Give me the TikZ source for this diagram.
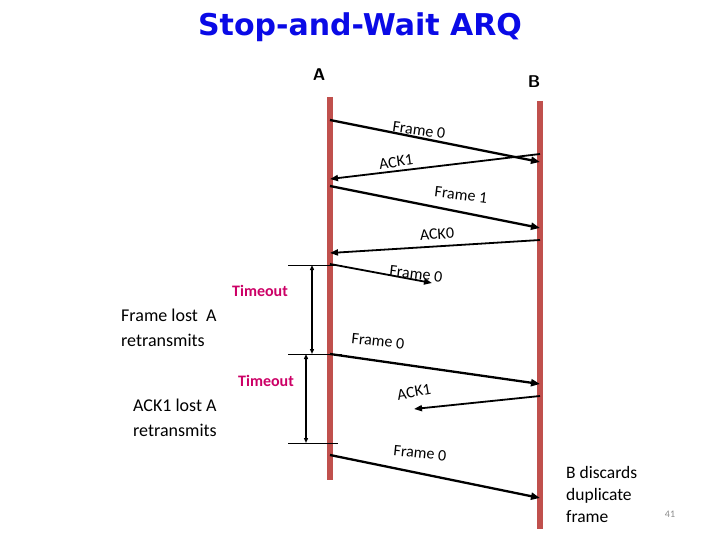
\documentclass[tikz,border=0pt]{standalone}
\usepackage{fontspec}
\setmainfont{Carlito}
\newfontfamily\titlefont{DejaVu Sans}
\usetikzlibrary{arrows.meta}
\definecolor{lifeline}{RGB}{192,80,77}
\definecolor{titleblue}{RGB}{10,10,230}
\definecolor{tmag}{RGB}{204,0,102}
\definecolor{pgnum}{RGB}{140,140,140}
\begin{document}
\begin{tikzpicture}[x=1pt,y=-1pt,
  life/.style={draw=lifeline,line width=6pt},
  msg/.style={-{Triangle[length=9pt,width=7pt]},line width=2.3pt},
  ack/.style={-{Triangle[length=8pt,width=6pt]},line width=1.8pt},
  lbl/.style={font=\fontsize{16}{18}\selectfont,inner sep=0pt},
  side/.style={font=\fontsize{18}{24.5}\selectfont,align=left,inner sep=0pt},
  tmo/.style={font=\fontsize{16}{18}\selectfont\bfseries,text=tmag,inner sep=0pt},
  tick/.style={line width=0.8pt},
  span/.style={{Triangle[length=5pt,width=4pt]}-{Triangle[length=5pt,width=4pt]},line width=1.3pt}]
\useasboundingbox (0,0) rectangle (720,540);
% title
\node[font=\titlefont\bfseries\fontsize{30}{34}\selectfont,text=titleblue] (title) at (360,27) {Stop-and-Wait ARQ};
\node[font=\sffamily\bfseries\fontsize{17}{19}\selectfont] (labA) at (319,75) {A};
\node[font=\sffamily\bfseries\fontsize{17}{19}\selectfont] (labB) at (534,82) {B};
% lifelines
\coordinate (Atop) at (330,97);
\coordinate (Abot) at (330,480);
\coordinate (Btop) at (540,101);
\coordinate (Bbot) at (540,529);
\draw[life] (Atop) -- (Abot);
\draw[life] (Btop) -- (Bbot);
% message end points
\coordinate (m1s) at (330,120); \coordinate (m1e) at (540,162);
\coordinate (m2s) at (540,154); \coordinate (m2e) at (330,179);
\coordinate (m3s) at (330,186); \coordinate (m3e) at (540,228);
\coordinate (m4s) at (540,240); \coordinate (m4e) at (330,253);
\coordinate (m5s) at (330,264); \coordinate (m5e) at (432,283);
\coordinate (m6s) at (330,354); \coordinate (m6e) at (540,384);
\coordinate (m7s) at (540,396); \coordinate (m7e) at (414,409);
\coordinate (m8s) at (330,455); \coordinate (m8e) at (540,498);
\draw[msg] (m1s) -- (m1e);
\draw[ack] (m2s) -- (m2e);
\draw[msg] (m3s) -- (m3e);
\draw[ack] (m4s) -- (m4e);
\draw[ack] (m5s) -- (m5e);
\draw[msg] (m6s) -- (m6e);
\draw[ack] (m7s) -- (m7e);
\draw[msg] (m8s) -- (m8e);
% message labels
\node[lbl,rotate=-8] (l1) at (419,130) {Frame 0};
\node[lbl,rotate=8] (l2) at (396,162) {ACK1};
\node[lbl,rotate=-7] (l3) at (461,195) {Frame 1};
\node[lbl,rotate=4] (l4) at (437,234) {ACK0};
\node[lbl,rotate=-7] (l5) at (416,274) {Frame 0};
\node[lbl,rotate=-6] (l6) at (378,341) {Frame 0};
\node[lbl,rotate=10] (l7) at (414,392) {ACK1};
\node[lbl,rotate=-6] (l8) at (420,453) {Frame 0};
% timeout brackets
\coordinate (t1l) at (288,265); \coordinate (t1r) at (342,265);
\coordinate (t2l) at (288,354); \coordinate (t2r) at (342,354);
\coordinate (t3l) at (288,443); \coordinate (t3r) at (338,443);
\draw[tick] (t1l) -- (t1r);
\draw[tick] (t2l) -- (t2r);
\draw[tick] (t3l) -- (t3r);
\coordinate (v1t) at (312,265); \coordinate (v1b) at (312,354);
\coordinate (v2t) at (306,354); \coordinate (v2b) at (306,443);
\draw[span] (v1t) -- (v1b);
\draw[span] (v2t) -- (v2b);
\node[tmo] (to1) at (260,291) {Timeout};
\node[tmo] (to2) at (266,381) {Timeout};
% side notes
\node[side,anchor=north west] (n1) at (121,309) {Frame lost\ \ A\\retransmits};
\node[side,anchor=north west] (n2) at (133,399) {ACK1 lost A\\retransmits};
\node[font=\fontsize{17.5}{22}\selectfont,align=left,anchor=north west,inner sep=0pt] (n3) at (566,466) {B discards\\duplicate\\frame};
\node[font=\fontsize{10}{12}\selectfont,text=pgnum] (pg) at (670,514) {41};
\end{tikzpicture}
\end{document}
